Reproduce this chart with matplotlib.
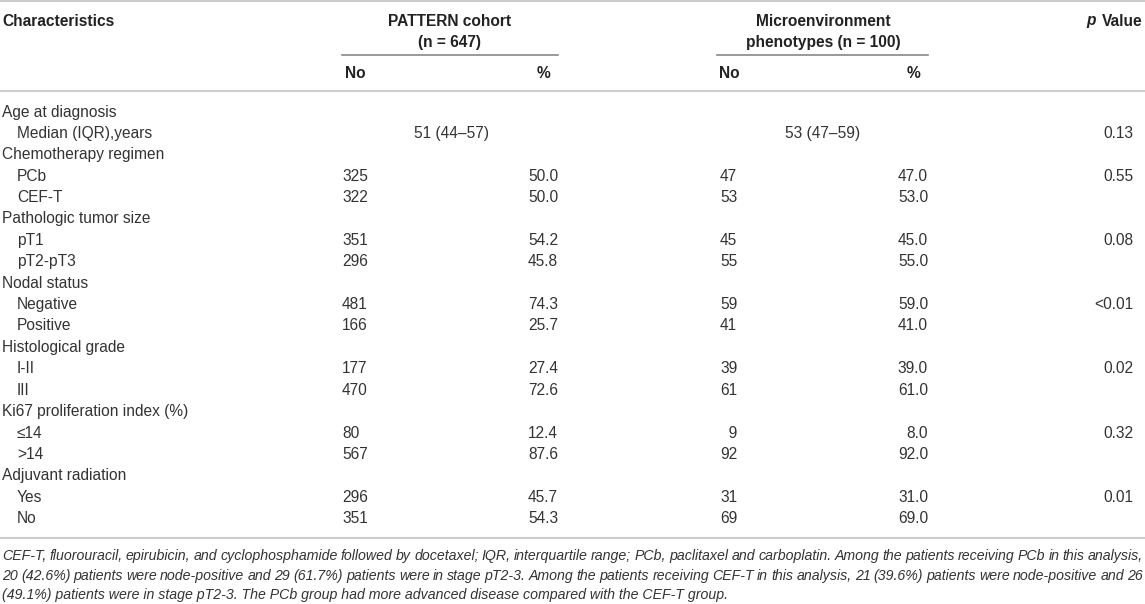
import matplotlib
matplotlib.use("Agg")
import matplotlib.pyplot as plt
from matplotlib import font_manager

# Datos de la tabla
secciones = ["Age at diagnosis", "Chemotherapy regimen", "Pathologic tumor size", "Nodal status",
             "Histological grade", "Ki67 proliferation index (%)", "Adjuvant radiation"]
subgrupos = [["Median (IQR),years"], ["PCb", "CEF-T"], ["pT1", "pT2-pT3"], ["Negative", "Positive"],
             ["I-II", "III"], ["≤14", ">14"], ["Yes", "No"]]

mediana_pattern = "51 (44–57)"
mediana_micro = "53 (47–59)"

pattern_n = [325, 322, 351, 296, 481, 166, 177, 470, 80, 567, 296, 351]
pattern_pct = [50.0, 50.0, 54.2, 45.8, 74.3, 25.7, 27.4, 72.6, 12.4, 87.6, 45.7, 54.3]
micro_n = [47, 53, 45, 55, 59, 41, 39, 61, 9, 92, 31, 69]
micro_pct = [47.0, 53.0, 45.0, 55.0, 59.0, 41.0, 39.0, 61.0, 8.0, 92.0, 31.0, 69.0]
p_valores = ["0.13", "0.55", "0.08", "<0.01", "0.02", "0.32", "0.01"]

nota = [
    "CEF-T, fluorouracil, epirubicin, and cyclophosphamide followed by docetaxel; IQR, interquartile range; PCb, paclitaxel and carboplatin. Among the patients receiving PCb in this analysis,",
    "20 (42.6%) patients were node-positive and 29 (61.7%) patients were in stage pT2-3. Among the patients receiving CEF-T in this analysis, 21 (39.6%) patients were node-positive and 26",
    "(49.1%) patients were in stage pT2-3. The PCb group had more advanced disease compared with the CEF-T group.",
]

# Fuentes
nombres = {f.name for f in font_manager.fontManager.ttflist}
fuente = "Liberation Sans" if "Liberation Sans" in nombres else "DejaVu Sans"
fuente_nota = "Liberation Sans Narrow" if "Liberation Sans Narrow" in nombres else fuente

W, H = 1145, 604
fig = plt.figure(figsize=(W / 100, H / 100), dpi=100)
ax = fig.add_axes([0, 0, 1, 1])
ax.set_xlim(0, W)
ax.set_ylim(H, 0)
ax.axis("off")

gris_texto = "#333333"
negro = "#222222"
tam = 11.2

# Columnas
x_lab, x_ind = 2, 17
x_pn, x_pp = 342, 558
x_mn, x_mp = 720, 928
x_p = 1133


def encabezado(x, y, s, ha="left", **kw):
    ax.text(x, y, s, fontsize=tam, fontweight="bold", family=fuente, va="center", ha=ha, color=negro, **kw)


# Encabezado
ax.axhline(0.8, color="#cccccc", lw=1.5)
encabezado(x_lab, 21, "Characteristics")
encabezado(450, 21, "PATTERN cohort", ha="center")
encabezado(450, 43, "(n = 647)", ha="center")
encabezado(823, 21, "Microenvironment", ha="center")
encabezado(823, 43, "phenotypes (n = 100)", ha="center")
encabezado(1143, 21, "Value", ha="right")
encabezado(1096, 21, "p", ha="right", fontstyle="italic")
ax.plot([342, 558], [55, 55], color="#888888", lw=1.2)
ax.plot([717, 928], [55, 55], color="#888888", lw=1.2)
for xn, xp in [(345, 550), (719, 920)]:
    encabezado(xn, 73, "No")
    encabezado(xp, 73, "%", ha="right")
ax.axhline(91, color="#cccccc", lw=1.5)

# Filas
paso = 21.4
y0 = 112
fila = 0
k = 0
for s, sec in enumerate(secciones):
    y = y0 + paso * fila
    ax.text(x_lab, y, sec, fontsize=tam, family=fuente, va="center", color=gris_texto)
    fila += 1
    for j, sub in enumerate(subgrupos[s]):
        y = y0 + paso * fila
        ax.text(x_ind, y, sub, fontsize=tam, family=fuente, va="center", color=gris_texto)
        if s == 0:
            ax.text(452, y, mediana_pattern, fontsize=tam, family=fuente, va="center", ha="center", color=gris_texto)
            ax.text(823, y, mediana_micro, fontsize=tam, family=fuente, va="center", ha="center", color=gris_texto)
        else:
            ax.text(x_pn, y, str(pattern_n[k]), fontsize=tam, family=fuente, va="center", color=gris_texto)
            ax.text(x_pp, y, f"{pattern_pct[k]:.1f}", fontsize=tam, family=fuente, va="center", ha="right", color=gris_texto)
            ax.text(x_mn, y, str(micro_n[k]).rjust(2, "\u2007"), fontsize=tam, family=fuente, va="center", color=gris_texto)
            ax.text(x_mp, y, f"{micro_pct[k]:.1f}", fontsize=tam, family=fuente, va="center", ha="right", color=gris_texto)
            k += 1
        if j == 0:
            ax.text(x_p, y, p_valores[s], fontsize=tam, family=fuente, va="center", ha="right", color=gris_texto)
        fila += 1

ax.axhline(538, color="#cccccc", lw=1.5)

# Nota al pie, justificada
fig.canvas.draw()
renderer = fig.canvas.get_renderer()
tam_nota = 10.2
ys_nota = [556, 576, 595]
for i, linea in enumerate(nota):
    y = ys_nota[i]
    if i == len(nota) - 1:
        ax.text(2, y, linea, fontsize=tam_nota, family=fuente_nota, style="italic", va="center", color=gris_texto)
        continue
    palabras = linea.split(" ")
    textos = [ax.text(0, y, p, fontsize=tam_nota, family=fuente_nota, style="italic", va="center", color=gris_texto)
              for p in palabras]
    anchos = [tx.get_window_extent(renderer).width for tx in textos]
    hueco = (1143 - 2 - sum(anchos)) / (len(palabras) - 1)
    x = 2
    for tx, a in zip(textos, anchos):
        tx.set_x(x)
        x += a + hueco

fig.savefig("out.png", dpi=100)
